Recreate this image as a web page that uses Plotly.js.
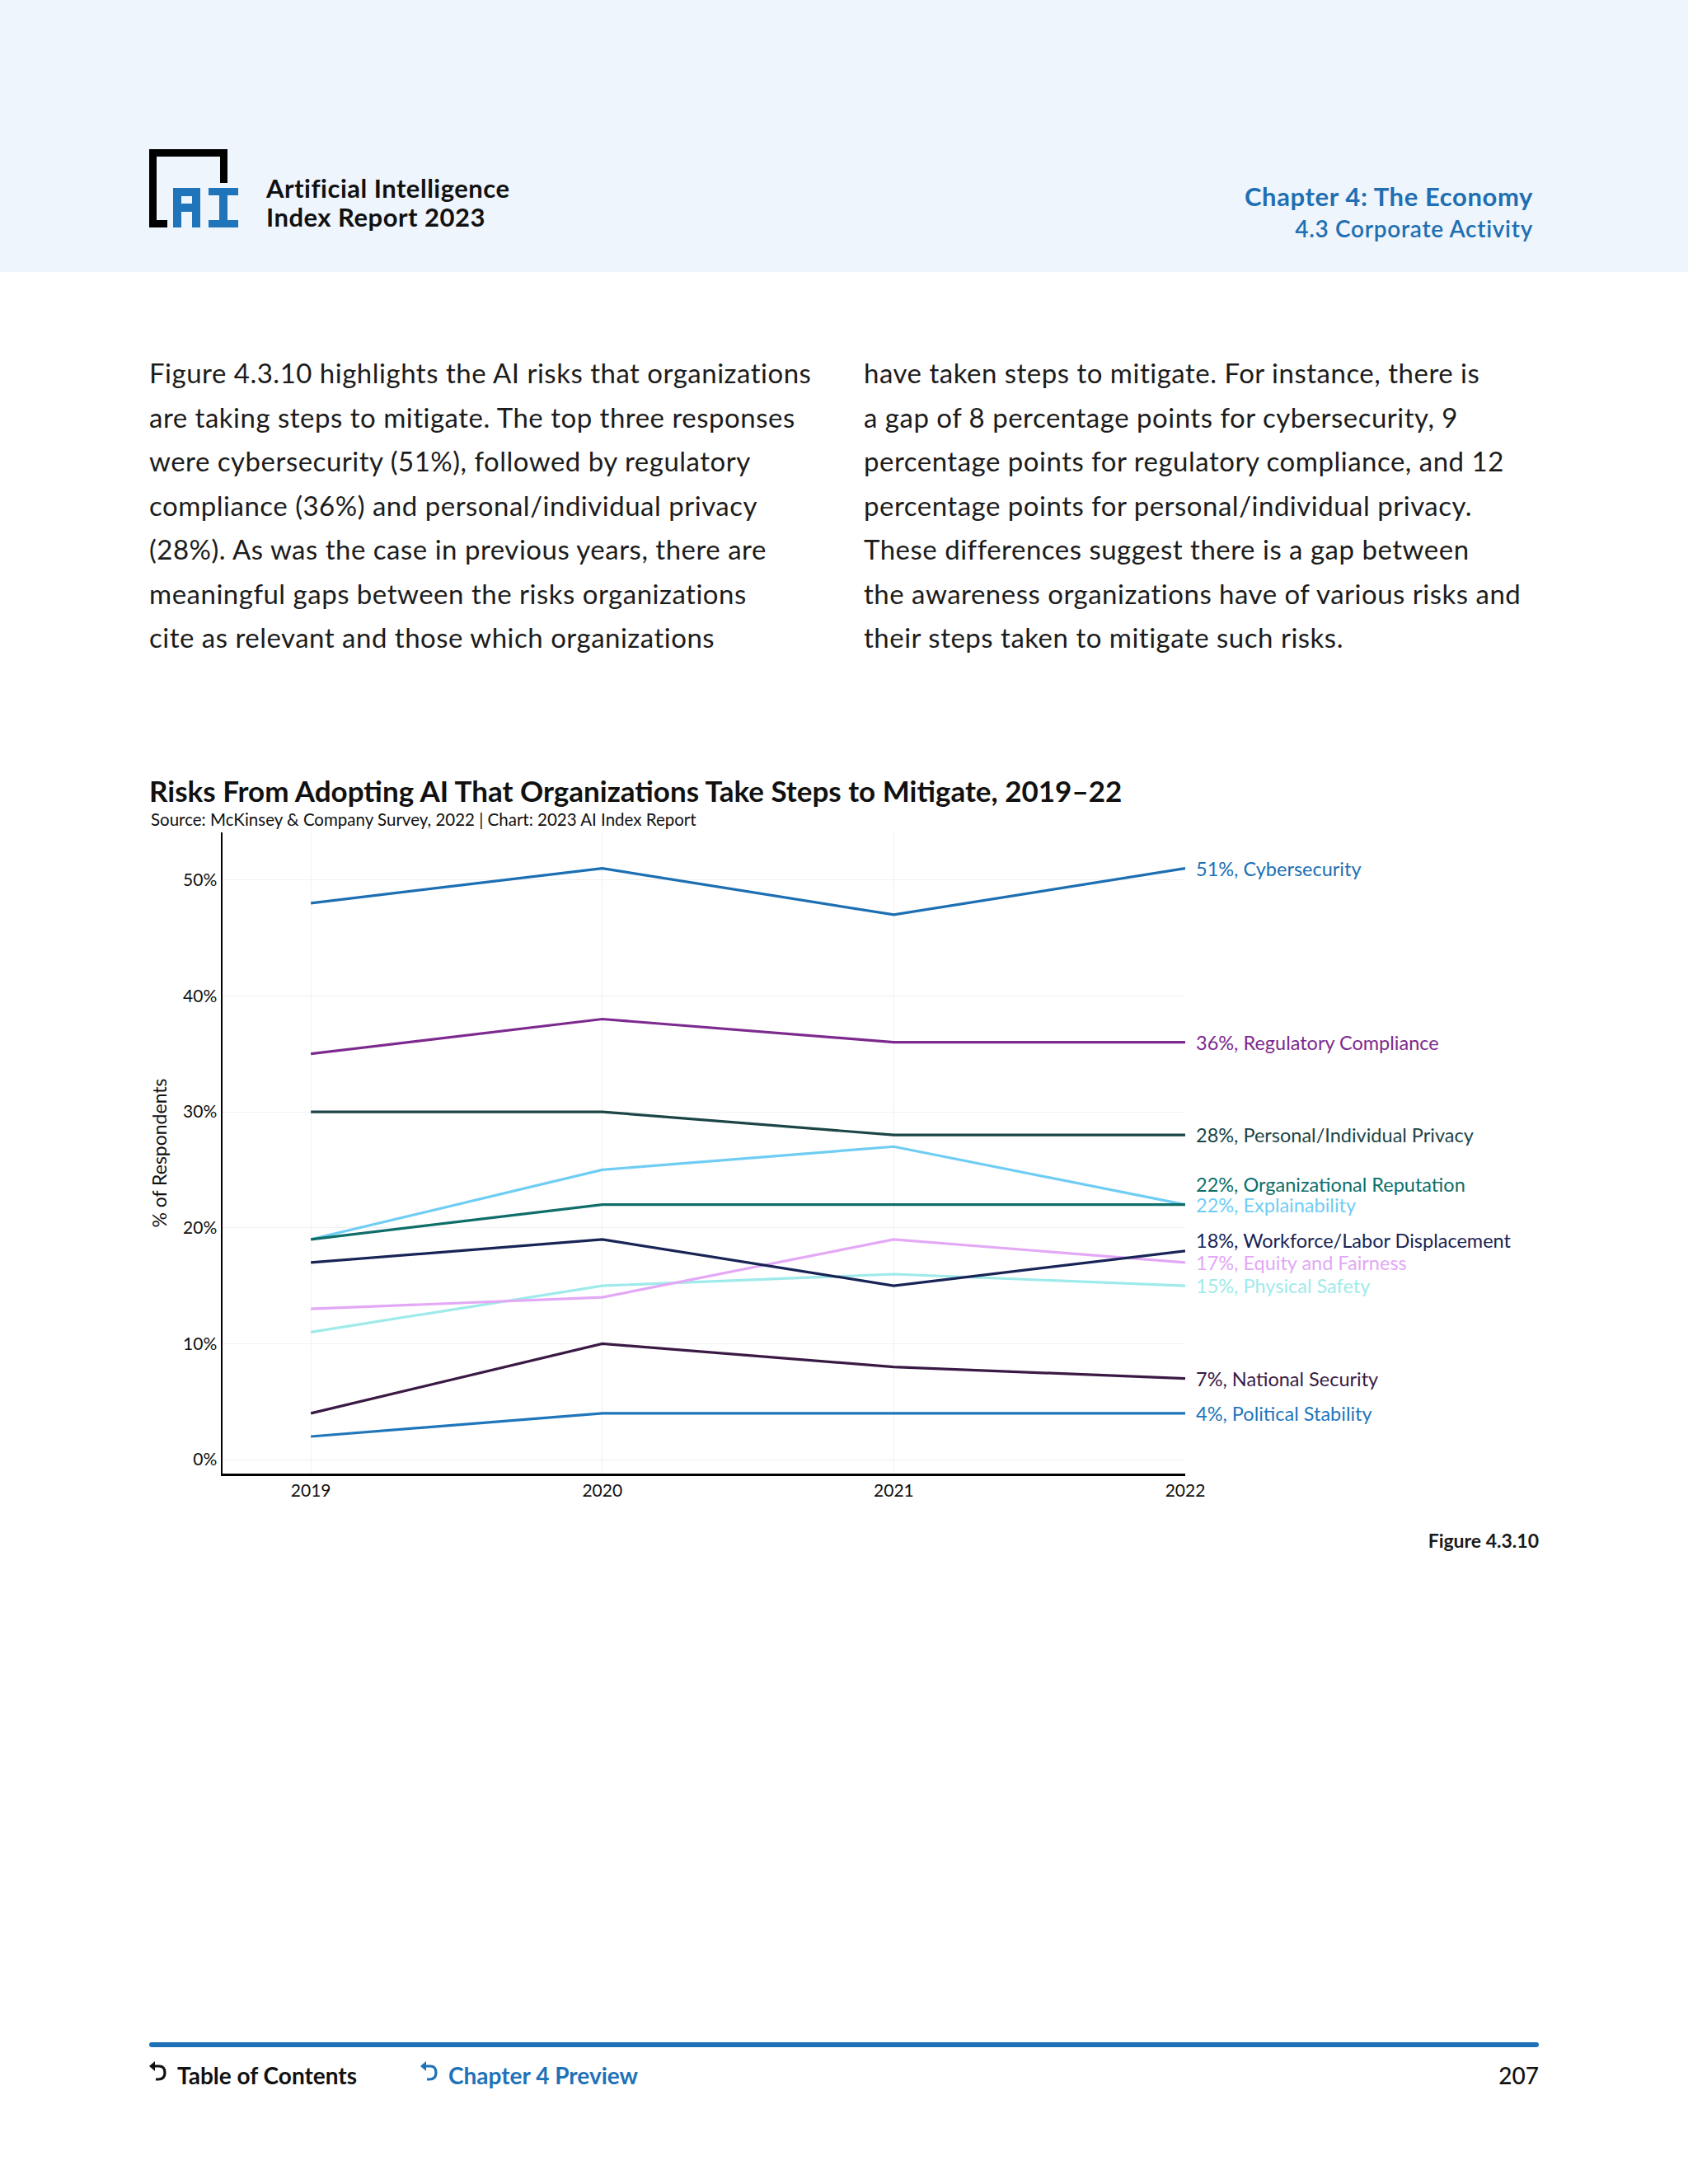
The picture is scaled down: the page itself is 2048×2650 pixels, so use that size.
<!DOCTYPE html>
<html>
<head>
<meta charset="utf-8">
<script src="https://cdn.plot.ly/plotly-3.0.1.min.js"></script>
<style>
  html, body { margin:0; padding:0; background:#ffffff; }
  body { width:2048px; height:2650px; position:relative; overflow:hidden; font-family:"Lato","Noto Sans",sans-serif; color:#1a1a1a; }
  .band { position:absolute; left:0; top:0; width:2048px; height:330px; background:#eef5fc; }
  .abs { position:absolute; white-space:nowrap; }
  .hdr { left:323px; font-weight:700; font-size:31px; letter-spacing:0.5px; color:#111; line-height:34px; }
  .chap { right:188px; text-align:right; color:#1f6fb2; }
  .body { font-size:33px; letter-spacing:0.5px; line-height:53.5px; color:#1c1c1c; }
  .foot { font-weight:700; font-size:28px; }
</style>
</head>
<body>
<div class="band"></div>
<svg class="abs" style="left:0;top:0" width="400" height="320">
  <rect x="181" y="181" width="9" height="95" fill="#000"/>
  <rect x="181" y="181" width="95" height="9" fill="#000"/>
  <rect x="267" y="181" width="9" height="41" fill="#000"/>
  <rect x="181" y="267" width="22" height="9" fill="#000"/>
  <path d="M210 228 H243 V276 H233 V257 H220 V276 H210 Z M220 238 V247 H233 V238 Z" fill="#1f74ba" fill-rule="evenodd"/>
  <path d="M253 228 H289 V237 H276 V267 H289 V276 H253 V267 H266 V237 H253 Z" fill="#1f74ba"/>
</svg>
<div class="abs hdr" style="top:211px">Artificial Intelligence</div>
<div class="abs hdr" style="top:246px">Index Report 2023</div>
<div class="abs chap" style="top:219px;font-size:31px;letter-spacing:0.6px;font-weight:700">Chapter 4: The Economy</div>
<div class="abs chap" style="top:260px;font-size:28px;letter-spacing:0.7px;font-weight:600">4.3 Corporate Activity</div>

<div class="abs body" style="left:181px;top:426px">
Figure 4.3.10 highlights the AI risks that organizations<br>
are taking steps to mitigate. The top three responses<br>
were cybersecurity (51%), followed by regulatory<br>
compliance (36%) and personal/individual privacy<br>
(28%). As was the case in previous years, there are<br>
meaningful gaps between the risks organizations<br>
cite as relevant and those which organizations
</div>
<div class="abs body" style="left:1048px;top:426px">
have taken steps to mitigate. For instance, there is<br>
a gap of 8 percentage points for cybersecurity, 9<br>
percentage points for regulatory compliance, and 12<br>
percentage points for personal/individual privacy.<br>
These differences suggest there is a gap between<br>
the awareness organizations have of various risks and<br>
their steps taken to mitigate such risks.
</div>

<div id="chart" class="abs" style="left:0;top:900px;width:2048px;height:1000px"></div>

<div class="abs" style="right:181px;top:1855px;font-size:23px;font-weight:700;color:#1a1a1a">Figure 4.3.10</div>

<div class="abs" style="left:181px;top:2478px;width:1686px;height:6px;background:#1f72b8;border-radius:3px"></div>
<svg class="abs" style="left:0;top:2490px" width="600" height="60">
  <path d="M186 17 H193 Q200 17 200 25 Q200 33 192 33 H189" fill="none" stroke="#111" stroke-width="3.2"/>
  <path d="M181 17 L188 11 L188 23 Z" fill="#111"/>
  <path d="M515 17 H522 Q529 17 529 25 Q529 33 521 33 H518" fill="none" stroke="#1f72b8" stroke-width="3.2"/>
  <path d="M510 17 L517 11 L517 23 Z" fill="#1f72b8"/>
</svg>
<div class="abs foot" style="left:215px;top:2501px;color:#111">Table of Contents</div>
<div class="abs foot" style="left:544px;top:2501px;color:#1f72b8">Chapter 4 Preview</div>
<div class="abs foot" style="right:181px;top:2501px;color:#111;font-weight:500">207</div>

<script>
const years = [2019, 2020, 2021, 2022];
const riskNames = [
  "Cybersecurity",
  "Regulatory Compliance",
  "Personal/Individual Privacy",
  "Organizational Reputation",
  "Explainability",
  "Workforce/Labor Displacement",
  "Equity and Fairness",
  "Physical Safety",
  "National Security",
  "Political Stability"
];
const cybersecurity = [48, 51, 47, 51];
const regulatoryCompliance = [35, 38, 36, 36];
const personalPrivacy = [30, 30, 28, 28];
const organizationalReputation = [19, 22, 22, 22];
const explainability = [19, 25, 27, 22];
const workforceDisplacement = [17, 19, 15, 18];
const equityFairness = [13, 14, 19, 17];
const physicalSafety = [11, 15, 16, 15];
const nationalSecurity = [4, 10, 8, 7];
const politicalStability = [2, 4, 4, 4];
const yTickValues = [0, 10, 20, 30, 40, 50];

const seriesValues = [cybersecurity, regulatoryCompliance, personalPrivacy, organizationalReputation,
  explainability, workforceDisplacement, equityFairness, physicalSafety, nationalSecurity, politicalStability];

// styles (kept apart from the data)
const colors = ["#1c6fb3", "#7d2a8f", "#1b4546", "#0f6e6a", "#6fcdf4", "#182456", "#e3a8f6", "#9feaea", "#3a1a44", "#1f76bb"];
const labelShift = [0, 0, 0, 25, 0, 13, 0, 0, 0, 0];
// draw order: lighter lines under darker ones
const drawOrder = [7, 6, 4, 9, 8, 5, 3, 2, 1, 0];

const traces = drawOrder.map(i => ({
  type: "scatter", mode: "lines", x: years, y: seriesValues[i], name: riskNames[i],
  line: { color: colors[i], width: 3.2 }, hoverinfo: "skip", showlegend: false
}));

const annotations = riskNames.map((n, i) => {
  const v = seriesValues[i][seriesValues[i].length - 1];
  return {
    x: years[years.length - 1], y: v, xref: "x", yref: "y",
    text: v + "%, " + n, showarrow: false, xanchor: "left", yanchor: "middle",
    xshift: 11, yshift: labelShift[i],
    font: { family: "Lato, Noto Sans, sans-serif", size: 23.5, color: colors[i] }
  };
});
annotations.push({
  xref: "paper", yref: "paper", x: -0.0762, y: 1.0206, xanchor: "left", yanchor: "middle",
  text: "Source: McKinsey &amp; Company Survey, 2022 | Chart: 2023 AI Index Report", showarrow: false,
  font: { family: "Lato, Noto Sans, sans-serif", size: 20.5, color: "#111" }
});

const layout = {
  width: 2048, height: 1000,
  margin: { l: 270, r: 610, t: 110, b: 112 },
  paper_bgcolor: "rgba(0,0,0,0)", plot_bgcolor: "#ffffff",
  font: { family: "Lato, Noto Sans, sans-serif", color: "#111" },
  title: {
    text: "<b>Risks From Adopting AI That Organizations Take Steps to Mitigate, 2019–22</b>",
    xref: "container", yref: "container", x: 181 / 2048, xanchor: "left", y: 0.939, yanchor: "middle",
    font: { family: "Lato, Noto Sans, sans-serif", size: 35, color: "#111" }
  },
  xaxis: {
    range: [2018.697, 2022], tickvals: years, ticktext: years.map(String),
    showgrid: true, gridcolor: "#f0f0f0", gridwidth: 1, zeroline: false,
    showline: true, linecolor: "#000", linewidth: 2.5, ticks: "",
    tickfont: { size: 21, color: "#111" }, fixedrange: true
  },
  yaxis: {
    range: [-1.2, 54.1], tickvals: yTickValues, ticktext: yTickValues.map(v => v + "%"),
    showgrid: true, gridcolor: "#f0f0f0", gridwidth: 1, zeroline: false,
    showline: true, linecolor: "#000", linewidth: 2.5, ticks: "",
    tickfont: { size: 21, color: "#111" },
    title: { text: "% of Respondents", font: { size: 23, color: "#111" }, standoff: 13 },
    fixedrange: true
  },
  annotations: annotations
};

Plotly.newPlot("chart", traces, layout, { staticPlot: true, displayModeBar: false });
</script>
</body>
</html>
